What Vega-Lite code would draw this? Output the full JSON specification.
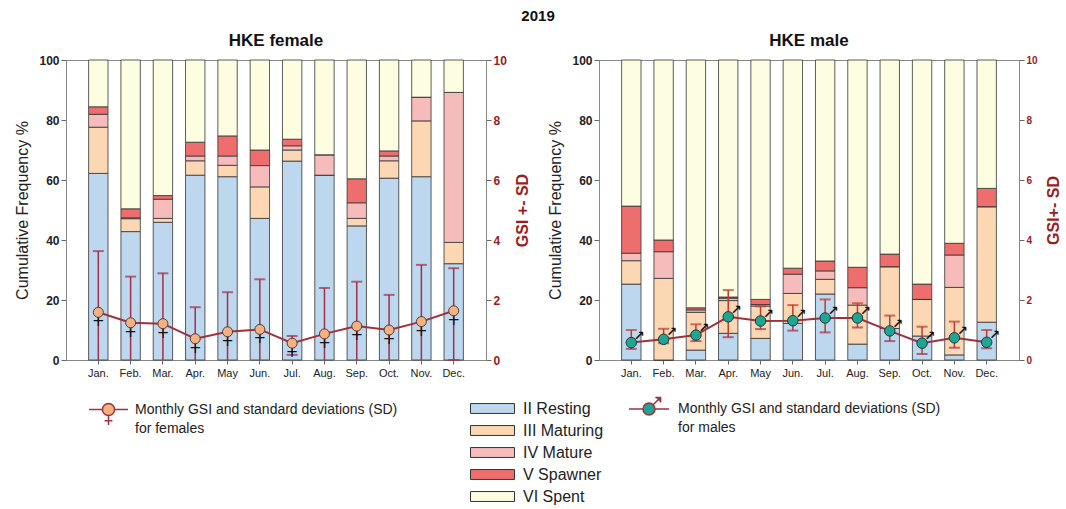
{
  "$schema": "https://vega.github.io/schema/vega-lite/v6.json",
  "padding": {"left": 14, "top": 8, "right": 0, "bottom": 0},
  "config": {
    "font": "Liberation Sans, DejaVu Sans",
    "view": {"stroke": "#888", "strokeWidth": 1},
    "axis": {"grid": false, "domainColor": "#888", "tickColor": "#666", "labelColor": "#222", "titleColor": "#222"},
    "style": {"guide-label": {"lineHeight": 19}}
  },
  "bounds": "flush",
  "spacing": 113,
  "title": {"text": "2019", "fontSize": 15, "fontWeight": "bold", "anchor": "middle", "color": "#111", "offset": 8},
  "datasets": {
    "fst": [
      {"m":"Jan.","s":"II Resting","k":1,"v":62.2},{"m":"Jan.","s":"III Maturing","k":2,"v":15.4},{"m":"Jan.","s":"IV Mature","k":3,"v":4.3},{"m":"Jan.","s":"V Spawner","k":4,"v":2.5},{"m":"Jan.","s":"VI Spent","k":5,"v":15.6},
      {"m":"Feb.","s":"II Resting","k":1,"v":42.8},{"m":"Feb.","s":"III Maturing","k":2,"v":4.3},{"m":"Feb.","s":"IV Mature","k":3,"v":0.3},{"m":"Feb.","s":"V Spawner","k":4,"v":3.0},{"m":"Feb.","s":"VI Spent","k":5,"v":49.6},
      {"m":"Mar.","s":"II Resting","k":1,"v":45.9},{"m":"Mar.","s":"III Maturing","k":2,"v":1.3},{"m":"Mar.","s":"IV Mature","k":3,"v":6.4},{"m":"Mar.","s":"V Spawner","k":4,"v":1.2},{"m":"Mar.","s":"VI Spent","k":5,"v":45.2},
      {"m":"Apr.","s":"II Resting","k":1,"v":61.6},{"m":"Apr.","s":"III Maturing","k":2,"v":4.8},{"m":"Apr.","s":"IV Mature","k":3,"v":1.6},{"m":"Apr.","s":"V Spawner","k":4,"v":4.6},{"m":"Apr.","s":"VI Spent","k":5,"v":27.4},
      {"m":"May","s":"II Resting","k":1,"v":61.1},{"m":"May","s":"III Maturing","k":2,"v":3.8},{"m":"May","s":"IV Mature","k":3,"v":3.1},{"m":"May","s":"V Spawner","k":4,"v":6.7},{"m":"May","s":"VI Spent","k":5,"v":25.3},
      {"m":"Jun.","s":"II Resting","k":1,"v":47.2},{"m":"Jun.","s":"III Maturing","k":2,"v":10.5},{"m":"Jun.","s":"IV Mature","k":3,"v":7.1},{"m":"Jun.","s":"V Spawner","k":4,"v":5.2},{"m":"Jun.","s":"VI Spent","k":5,"v":30.0},
      {"m":"Jul.","s":"II Resting","k":1,"v":66.3},{"m":"Jul.","s":"III Maturing","k":2,"v":3.7},{"m":"Jul.","s":"IV Mature","k":3,"v":1.4},{"m":"Jul.","s":"V Spawner","k":4,"v":2.2},{"m":"Jul.","s":"VI Spent","k":5,"v":26.4},
      {"m":"Aug.","s":"II Resting","k":1,"v":61.6},{"m":"Aug.","s":"III Maturing","k":2,"v":0},{"m":"Aug.","s":"IV Mature","k":3,"v":6.8},{"m":"Aug.","s":"V Spawner","k":4,"v":0},{"m":"Aug.","s":"VI Spent","k":5,"v":31.6},
      {"m":"Sep.","s":"II Resting","k":1,"v":44.7},{"m":"Sep.","s":"III Maturing","k":2,"v":2.5},{"m":"Sep.","s":"IV Mature","k":3,"v":5.2},{"m":"Sep.","s":"V Spawner","k":4,"v":8.0},{"m":"Sep.","s":"VI Spent","k":5,"v":39.6},
      {"m":"Oct.","s":"II Resting","k":1,"v":60.6},{"m":"Oct.","s":"III Maturing","k":2,"v":5.8},{"m":"Oct.","s":"IV Mature","k":3,"v":1.6},{"m":"Oct.","s":"V Spawner","k":4,"v":1.7},{"m":"Oct.","s":"VI Spent","k":5,"v":30.3},
      {"m":"Nov.","s":"II Resting","k":1,"v":61.1},{"m":"Nov.","s":"III Maturing","k":2,"v":18.6},{"m":"Nov.","s":"IV Mature","k":3,"v":7.9},{"m":"Nov.","s":"V Spawner","k":4,"v":0},{"m":"Nov.","s":"VI Spent","k":5,"v":12.4},
      {"m":"Dec.","s":"II Resting","k":1,"v":32.1},{"m":"Dec.","s":"III Maturing","k":2,"v":7.1},{"m":"Dec.","s":"IV Mature","k":3,"v":50.0},{"m":"Dec.","s":"V Spawner","k":4,"v":0},{"m":"Dec.","s":"VI Spent","k":5,"v":10.8}
    ],
    "mst": [
      {"m":"Jan.","s":"II Resting","k":1,"v":25.3},{"m":"Jan.","s":"III Maturing","k":2,"v":7.8},{"m":"Jan.","s":"IV Mature","k":3,"v":2.5},{"m":"Jan.","s":"V Spawner","k":4,"v":15.7},{"m":"Jan.","s":"VI Spent","k":5,"v":48.7},
      {"m":"Feb.","s":"II Resting","k":1,"v":0},{"m":"Feb.","s":"III Maturing","k":2,"v":27.2},{"m":"Feb.","s":"IV Mature","k":3,"v":8.9},{"m":"Feb.","s":"V Spawner","k":4,"v":3.9},{"m":"Feb.","s":"VI Spent","k":5,"v":60.0},
      {"m":"Mar.","s":"II Resting","k":1,"v":3.3},{"m":"Mar.","s":"III Maturing","k":2,"v":12.6},{"m":"Mar.","s":"IV Mature","k":3,"v":0.8},{"m":"Mar.","s":"V Spawner","k":4,"v":0.7},{"m":"Mar.","s":"VI Spent","k":5,"v":82.6},
      {"m":"Apr.","s":"II Resting","k":1,"v":8.9},{"m":"Apr.","s":"III Maturing","k":2,"v":10.9},{"m":"Apr.","s":"IV Mature","k":3,"v":0.8},{"m":"Apr.","s":"V Spawner","k":4,"v":0.4},{"m":"Apr.","s":"VI Spent","k":5,"v":79.0},
      {"m":"May","s":"II Resting","k":1,"v":7.2},{"m":"May","s":"III Maturing","k":2,"v":10.8},{"m":"May","s":"IV Mature","k":3,"v":0.5},{"m":"May","s":"V Spawner","k":4,"v":1.7},{"m":"May","s":"VI Spent","k":5,"v":79.8},
      {"m":"Jun.","s":"II Resting","k":1,"v":12.2},{"m":"Jun.","s":"III Maturing","k":2,"v":10.0},{"m":"Jun.","s":"IV Mature","k":3,"v":6.4},{"m":"Jun.","s":"V Spawner","k":4,"v":2.0},{"m":"Jun.","s":"VI Spent","k":5,"v":69.4},
      {"m":"Jul.","s":"II Resting","k":1,"v":22.0},{"m":"Jul.","s":"III Maturing","k":2,"v":4.9},{"m":"Jul.","s":"IV Mature","k":3,"v":2.8},{"m":"Jul.","s":"V Spawner","k":4,"v":3.3},{"m":"Jul.","s":"VI Spent","k":5,"v":67.0},
      {"m":"Aug.","s":"II Resting","k":1,"v":5.3},{"m":"Aug.","s":"III Maturing","k":2,"v":13.0},{"m":"Aug.","s":"IV Mature","k":3,"v":5.8},{"m":"Aug.","s":"V Spawner","k":4,"v":6.8},{"m":"Aug.","s":"VI Spent","k":5,"v":69.1},
      {"m":"Sep.","s":"II Resting","k":1,"v":10.5},{"m":"Sep.","s":"III Maturing","k":2,"v":20.6},{"m":"Sep.","s":"IV Mature","k":3,"v":0},{"m":"Sep.","s":"V Spawner","k":4,"v":4.2},{"m":"Sep.","s":"VI Spent","k":5,"v":64.7},
      {"m":"Oct.","s":"II Resting","k":1,"v":8.0},{"m":"Oct.","s":"III Maturing","k":2,"v":12.2},{"m":"Oct.","s":"IV Mature","k":3,"v":0},{"m":"Oct.","s":"V Spawner","k":4,"v":5.1},{"m":"Oct.","s":"VI Spent","k":5,"v":74.7},
      {"m":"Nov.","s":"II Resting","k":1,"v":1.7},{"m":"Nov.","s":"III Maturing","k":2,"v":22.5},{"m":"Nov.","s":"IV Mature","k":3,"v":10.8},{"m":"Nov.","s":"V Spawner","k":4,"v":3.9},{"m":"Nov.","s":"VI Spent","k":5,"v":61.1},
      {"m":"Dec.","s":"II Resting","k":1,"v":12.6},{"m":"Dec.","s":"III Maturing","k":2,"v":38.5},{"m":"Dec.","s":"IV Mature","k":3,"v":0},{"m":"Dec.","s":"V Spawner","k":4,"v":6.1},{"m":"Dec.","s":"VI Spent","k":5,"v":42.8}
    ],
    "fg": [
      {"m":"Jan.","g":1.59,"hi":3.63,"lo":0,"lc":null,"ser":"F"},
      {"m":"Feb.","g":1.24,"hi":2.78,"lo":0,"lc":null,"ser":"F"},
      {"m":"Mar.","g":1.21,"hi":2.89,"lo":0,"lc":null,"ser":"F"},
      {"m":"Apr.","g":0.71,"hi":1.76,"lo":0,"lc":null,"ser":"F"},
      {"m":"May","g":0.94,"hi":2.26,"lo":0,"lc":null,"ser":"F"},
      {"m":"Jun.","g":1.02,"hi":2.69,"lo":0,"lc":null,"ser":"F"},
      {"m":"Jul.","g":0.56,"hi":0.80,"lo":0.17,"lc":0.17,"ser":"F"},
      {"m":"Aug.","g":0.87,"hi":2.40,"lo":0,"lc":null,"ser":"F"},
      {"m":"Sep.","g":1.13,"hi":2.61,"lo":0,"lc":null,"ser":"F"},
      {"m":"Oct.","g":1.00,"hi":2.17,"lo":0,"lc":null,"ser":"F"},
      {"m":"Nov.","g":1.28,"hi":3.17,"lo":0,"lc":null,"ser":"F"},
      {"m":"Dec.","g":1.64,"hi":3.06,"lo":0,"lc":0,"ser":"F"}
    ],
    "mg": [
      {"m":"Jan.","g":0.58,"hi":1.00,"lo":0.37,"ser":"M"},
      {"m":"Feb.","g":0.69,"hi":1.04,"lo":0.56,"ser":"M"},
      {"m":"Mar.","g":0.83,"hi":1.19,"lo":0.63,"ser":"M"},
      {"m":"Apr.","g":1.44,"hi":2.33,"lo":0.76,"ser":"M"},
      {"m":"May","g":1.30,"hi":1.79,"lo":1.03,"ser":"M"},
      {"m":"Jun.","g":1.31,"hi":1.83,"lo":0.98,"ser":"M"},
      {"m":"Jul.","g":1.40,"hi":2.02,"lo":0.92,"ser":"M"},
      {"m":"Aug.","g":1.40,"hi":1.89,"lo":1.08,"ser":"M"},
      {"m":"Sep.","g":0.97,"hi":1.48,"lo":0.63,"ser":"M"},
      {"m":"Oct.","g":0.56,"hi":1.11,"lo":0.20,"ser":"M"},
      {"m":"Nov.","g":0.74,"hi":1.28,"lo":0.41,"ser":"M"},
      {"m":"Dec.","g":0.59,"hi":1.00,"lo":0.39,"ser":"M"}
    ]
  },
  "hconcat": [
    {
      "width": 420, "height": 300,
      "title": {"text": "HKE female", "fontSize": 17, "fontWeight": "bold", "color": "#111", "offset": 4},
      "layer": [
        {
          "data": {"name": "fst"},
          "mark": {"type": "bar", "stroke": "#333", "strokeWidth": 0.8},
          "encoding": {
            "x": {"field": "m", "type": "nominal", "sort": null,
              "scale": {"domain": ["Jan.","Feb.","Mar.","Apr.","May","Jun.","Jul.","Aug.","Sep.","Oct.","Nov.","Dec."], "paddingInner": 0.4, "paddingOuter": 0.7},
              "axis": {"title": null, "labelAngle": 0, "labelFontSize": 11, "tickSize": 4, "labelPadding": 3}},
            "y": {"field": "v", "type": "quantitative", "stack": "zero",
              "scale": {"domain": [0, 100], "nice": false},
              "axis": {"values": [0,20,40,60,80,100], "title": "Cumulative Frequency %", "titleFontSize": 16, "titleFontWeight": "normal", "labelFontSize": 12, "labelFontWeight": "bold", "tickSize": 5, "titlePadding": 8}},
            "fill": {"field": "s", "type": "nominal",
              "scale": {"domain": ["II Resting","III Maturing","IV Mature","V Spawner","VI Spent"], "range": ["#bdd7ee","#fbd7b3","#f6bcbc","#ee6e6e","#fdfde2"]},
              "legend": {"title": null, "orient": "none", "legendX": 415, "legendY": 337, "direction": "vertical",
                "symbolType": "M-2,-0.45H2V0.45H-2Z", "symbolSize": 484, "symbolStrokeColor": "#333", "symbolStrokeWidth": 1,
                "labelFontSize": 16, "labelColor": "#222", "rowPadding": 2, "labelOffset": 19}},
            "order": {"field": "k", "type": "quantitative"}
          }
        },
        {
          "data": {"name": "fg"},
          "layer": [
            {"mark": {"type": "rule", "color": "#a3304a", "strokeWidth": 1.5},
             "encoding": {
               "x": {"field": "m", "type": "nominal", "sort": null},
               "y": {"field": "lo", "type": "quantitative", "scale": {"domain": [0, 10], "nice": false},
                 "axis": {"orient": "right", "values": [0,2,4,6,8,10], "title": "GSI +- SD", "titleAngle": 270, "titleBaseline": "top", "titleColor": "#9b1c22", "titleFontSize": 16, "titleFontWeight": "bold", "labelColor": "#9b1c22", "labelFontSize": 12, "labelFontWeight": "bold", "tickSize": 5, "titlePadding": 8}},
               "y2": {"field": "hi"}}},
            {"mark": {"type": "tick", "color": "#a3304a", "thickness": 2, "size": 11},
             "encoding": {"x": {"field": "m", "type": "nominal", "sort": null}, "y": {"field": "hi", "type": "quantitative"}}},
            {"mark": {"type": "tick", "color": "#a3304a", "thickness": 2, "size": 11},
             "encoding": {"x": {"field": "m", "type": "nominal", "sort": null}, "y": {"field": "lc", "type": "quantitative"}}},
            {"mark": {"type": "line", "color": "#a0303c", "strokeWidth": 2},
             "encoding": {"x": {"field": "m", "type": "nominal", "sort": null}, "y": {"field": "g", "type": "quantitative"}}},
            {"mark": {"type": "text", "text": "+", "fontSize": 15, "color": "#111", "dy": 9, "font": "DejaVu Sans"},
             "encoding": {"x": {"field": "m", "type": "nominal", "sort": null}, "y": {"field": "g", "type": "quantitative"}}},
            {"mark": {"type": "point", "filled": true, "fill": "#f4b183", "stroke": "#5a3a2a", "strokeWidth": 1, "size": 100, "opacity": 1},
             "encoding": {"x": {"field": "m", "type": "nominal", "sort": null}, "y": {"field": "g", "type": "quantitative"}}},
            {"transform": [{"filter": "false"}],
             "mark": {"type": "point", "filled": true, "fill": "#f4b183", "strokeWidth": 1.5, "size": 1521, "opacity": 1},
             "encoding": {"x": {"field": "m", "type": "nominal", "sort": null}, "y": {"field": "g", "type": "quantitative"},
               "stroke": {"field": "ser", "type": "nominal",
                 "scale": {"domain": ["F"], "range": ["#a0303c"]},
                 "legend": {"title": null, "orient": "none", "legendX": 22, "legendY": 322, "symbolSize": 1521,
                   "symbolType": "M-1,0.36H-0.31M0.31,0.36H1M0.31,0.36A0.31,0.31,0,1,1,-0.31,0.36A0.31,0.31,0,1,1,0.31,0.36ZM0,0.67V1.15M-0.2,0.93H0.2",
                   "symbolFillColor": "#f4b183", "symbolStrokeWidth": 1.5, "symbolOpacity": 1,
                   "labelFontSize": 14, "labelColor": "#222", "labelLimit": 400, "labelOffset": 6, "labelBaseline": "top",
                   "labelExpr": "['Monthly GSI and standard deviations (SD)', 'for females']"}}}}
          ]
        }
      ],
      "resolve": {"scale": {"y": "independent"}}
    },
    {
      "width": 420, "height": 300,
      "title": {"text": "HKE male", "fontSize": 17, "fontWeight": "bold", "color": "#111", "offset": 4},
      "layer": [
        {
          "data": {"name": "mst"},
          "mark": {"type": "bar", "stroke": "#333", "strokeWidth": 0.8},
          "encoding": {
            "x": {"field": "m", "type": "nominal", "sort": null,
              "scale": {"domain": ["Jan.","Feb.","Mar.","Apr.","May","Jun.","Jul.","Aug.","Sep.","Oct.","Nov.","Dec."], "paddingInner": 0.4, "paddingOuter": 0.7},
              "axis": {"title": null, "labelAngle": 0, "labelFontSize": 11, "tickSize": 4, "labelPadding": 3}},
            "y": {"field": "v", "type": "quantitative", "stack": "zero",
              "scale": {"domain": [0, 100], "nice": false},
              "axis": {"values": [0,20,40,60,80,100], "title": "Cumulative Frequency %", "titleFontSize": 16, "titleFontWeight": "normal", "labelFontSize": 12, "labelFontWeight": "bold", "tickSize": 5, "titlePadding": 8}},
            "fill": {"field": "s", "type": "nominal",
              "scale": {"domain": ["II Resting","III Maturing","IV Mature","V Spawner","VI Spent"], "range": ["#bdd7ee","#fbd7b3","#f6bcbc","#ee6e6e","#fdfde2"]},
              "legend": null},
            "order": {"field": "k", "type": "quantitative"}
          }
        },
        {
          "data": {"name": "mg"},
          "layer": [
            {"mark": {"type": "rule", "color": "#c0392b", "strokeWidth": 1.5},
             "encoding": {
               "x": {"field": "m", "type": "nominal", "sort": null},
               "y": {"field": "lo", "type": "quantitative", "scale": {"domain": [0, 10], "nice": false},
                 "axis": {"orient": "right", "values": [0,2,4,6,8,10], "title": "GSI+- SD", "titleAngle": 270, "titleBaseline": "top", "titleColor": "#9b1c22", "titleFontSize": 16, "titleFontWeight": "bold", "labelColor": "#9b1c22", "labelFontSize": 10, "labelFontWeight": "bold", "tickSize": 5, "titlePadding": 8}},
               "y2": {"field": "hi"}}},
            {"mark": {"type": "tick", "color": "#c0392b", "thickness": 2, "size": 11},
             "encoding": {"x": {"field": "m", "type": "nominal", "sort": null}, "y": {"field": "hi", "type": "quantitative"}}},
            {"mark": {"type": "tick", "color": "#a3304a", "thickness": 2, "size": 11},
             "encoding": {"x": {"field": "m", "type": "nominal", "sort": null}, "y": {"field": "lo", "type": "quantitative"}}},
            {"mark": {"type": "line", "color": "#a0303c", "strokeWidth": 2},
             "encoding": {"x": {"field": "m", "type": "nominal", "sort": null}, "y": {"field": "g", "type": "quantitative"}}},
            {"mark": {"type": "text", "text": "↗", "fontSize": 13, "fontWeight": "bold", "color": "#111", "dx": 8, "dy": -7, "font": "DejaVu Sans"},
             "encoding": {"x": {"field": "m", "type": "nominal", "sort": null}, "y": {"field": "g", "type": "quantitative"}}},
            {"mark": {"type": "point", "filled": true, "fill": "#1ea593", "stroke": "#1a3a3a", "strokeWidth": 1, "size": 110, "opacity": 1},
             "encoding": {"x": {"field": "m", "type": "nominal", "sort": null}, "y": {"field": "g", "type": "quantitative"}}},
            {"transform": [{"filter": "false"}],
             "mark": {"type": "point", "filled": true, "fill": "#1ea593", "strokeWidth": 1.5, "size": 1600, "opacity": 1},
             "encoding": {"x": {"field": "m", "type": "nominal", "sort": null}, "y": {"field": "g", "type": "quantitative"},
               "stroke": {"field": "ser", "type": "nominal",
                 "scale": {"domain": ["M"], "range": ["#a0303c"]},
                 "legend": {"title": null, "orient": "none", "legendX": 29, "legendY": 321, "symbolSize": 1600,
                   "symbolType": "M-1,0.35H-0.3M0.3,0.35H1M0.3,0.35A0.3,0.3,0,1,1,-0.3,0.35A0.3,0.3,0,1,1,0.3,0.35ZM0.21,0.14L0.55,-0.2M0.32,-0.23H0.58V0.03",
                   "symbolFillColor": "#1ea593", "symbolStrokeWidth": 1.5, "symbolOpacity": 1,
                   "labelFontSize": 14, "labelColor": "#222", "labelLimit": 400, "labelOffset": 8, "labelBaseline": "top",
                   "labelExpr": "['Monthly GSI and standard deviations (SD)', 'for males']"}}}}
          ]
        }
      ],
      "resolve": {"scale": {"y": "independent"}}
    }
  ],
  "resolve": {"scale": {"fill": "independent", "shape": "independent", "stroke": "independent", "x": "independent", "y": "independent"}, "legend": {"fill": "independent", "shape": "independent", "stroke": "independent"}}
}
